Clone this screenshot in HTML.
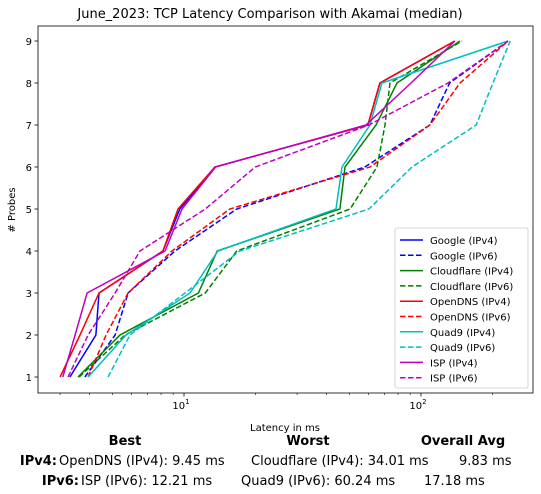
<!DOCTYPE html>
<html><head><meta charset="utf-8"><style>
body{margin:0;background:#fff;width:541px;height:494px;overflow:hidden;font-family:"DejaVu Sans","Liberation Sans",sans-serif}
svg{position:absolute;left:0;top:0;font-family:"DejaVu Sans","Liberation Sans",sans-serif}
svg text{font-family:"DejaVu Sans","Liberation Sans",sans-serif}
</style></head><body>
<svg id="c" width="541" height="494" xmlns="http://www.w3.org/2000/svg"></svg>
<script>
const probes=[1,2,3,4,5,6,7,8,9];
const seriesNames=["Google (IPv4)","Google (IPv6)","Cloudflare (IPv4)","Cloudflare (IPv6)","OpenDNS (IPv4)","OpenDNS (IPv6)","Quad9 (IPv4)","Quad9 (IPv6)","ISP (IPv4)","ISP (IPv6)"];
const googleV4=[3.3,4.25,4.38,8.15,9.6,13.5,59.7,67.1,139];
const googleV6=[3.82,5.12,5.81,9.16,16.7,58,109,132,233];
const cloudflareV4=[3.57,5.37,11.5,13.8,45.5,47.8,64.6,79.2,146];
const cloudflareV6=[3.61,5.64,12.3,16.7,50.2,65.2,70.5,74,149];
const opendnsV4=[3.0,3.64,4.38,8.15,9.43,13.5,59.7,67.1,139];
const opendnsV6=[3.94,4.69,5.81,8.9,15.6,60.9,109,146,233];
const quad9V4=[3.94,5.69,10.6,13.9,43.8,46.4,60.9,68.4,233];
const quad9V6=[4.78,5.92,10.1,17.2,60.3,91.6,171,201,238];
const ispV4=[3.08,3.47,3.9,8.32,9.81,13.6,58.6,90.7,139];
const ispV6=[3.24,3.94,5.12,6.52,12.3,20,60.3,130,233];
const colors=["#0000ff","#0000ff","#008000","#008000","#ff0000","#ff0000","#00bfbf","#00bfbf","#bf00bf","#bf00bf"];
const dashed=[false,true,false,true,false,true,false,true,false,true];
const allSeries=[googleV4,googleV6,cloudflareV4,cloudflareV6,opendnsV4,opendnsV6,quad9V4,quad9V6,ispV4,ispV6];
const xTickVals=[10,100];
const xTickLabels=["10","10"];
const yTicks=[1,2,3,4,5,6,7,8,9];

const L=38,R=533,T=26,B=393;
const X=v=>184+237*Math.log10(v/10);
const Y=p=>377-(p-1)*42;
const svg=document.getElementById('c');
const NS="http://www.w3.org/2000/svg";
function mk(tag,attrs,parent){const e=document.createElementNS(NS,tag);for(const k in attrs)e.setAttribute(k,attrs[k]);(parent||svg).appendChild(e);return e;}
function txt(s,x,y,size,anchor,weight,name){const t=mk('text',{x:x,y:y,'font-size':size,'text-anchor':anchor||'start','font-weight':weight||'normal',fill:'#000'});t.textContent=s;


return t;}

txt("June_2023: TCP Latency Comparison with Akamai (median)",270,18,13,'middle','normal','chart-title');
const g=mk('g',{});


allSeries.forEach((s,i)=>{
  const d=s.map((v,j)=>(j?'L':'M')+X(v).toFixed(1)+','+Y(probes[j]).toFixed(1)).join(' ');
  const p=mk('path',{d:d,fill:'none',stroke:colors[i],'stroke-width':1.5,'stroke-dasharray':dashed[i]?'5.5,2.5':'none'},g);
  
  
});
const fr=mk('rect',{x:L,y:T,width:R-L,height:B-T,fill:'none',stroke:'#000','stroke-width':0.8});


yTicks.forEach(v=>{mk('line',{x1:L-3.5,x2:L,y1:Y(v),y2:Y(v),stroke:'#000','stroke-width':0.8});txt(String(v),L-6,Y(v)+4,10,'end','normal','y-tick-label');});
xTickVals.forEach((v,i)=>{mk('line',{x1:X(v),x2:X(v),y1:B,y2:B+3.5,stroke:'#000','stroke-width':0.8});
 const t=txt(xTickLabels[i],X(v)-3,B+16,10,'middle','normal','x-tick-label');
 const sp=document.createElementNS(NS,'tspan');sp.setAttribute('dy','-5');sp.setAttribute('font-size','7');sp.textContent=String(i+1);t.appendChild(sp);});
for(let d=1;d<=100;d*=10){for(let m=2;m<=9;m++){const x=X(d*m);if(x>L&&x<R)mk('line',{x1:x,x2:x,y1:B,y2:B+2,stroke:'#000','stroke-width':0.6});}}
txt("Latency in ms",285,431,10,'middle','normal','x-axis-title');
const yl=txt("# Probes",15,210,10,'middle','normal','y-axis-title');yl.setAttribute('transform','rotate(-90 15 210)');
const lg=mk('g',{});


mk('rect',{x:395,y:228,width:133,height:160,rx:2,fill:'#fff',stroke:'#ccc','stroke-width':0.8},lg);
seriesNames.forEach((n,i)=>{const y=240+i*15.3;
 mk('line',{x1:400,x2:423,y1:y,y2:y,stroke:colors[i],'stroke-width':1.5,'stroke-dasharray':dashed[i]?'5.5,2.5':'none'},lg);
 const t=mk('text',{x:430,y:y+4,'font-size':10,fill:'#000'},lg);t.textContent=n;
 
 });
txt("Best",125,445,13,'middle','bold','best-header');
txt("Worst",308,445,13,'middle','bold','worst-header');
txt("Overall Avg",463,445,13,'middle','bold','avg-header');
txt("IPv4:",57,465,13,'end','bold','ipv4-label');
txt("OpenDNS (IPv4): 9.45 ms",59,465,13,'start','normal','ipv4-best');
txt("Cloudflare (IPv4): 34.01 ms",251,465,13,'start','normal','ipv4-worst');
txt("9.83 ms",459,465,13,'start','normal','ipv4-avg');
txt("IPv6:",79,485,13,'end','bold','ipv6-label');
txt("ISP (IPv6): 12.21 ms",81,485,13,'start','normal','ipv6-best');
txt("Quad9 (IPv6): 60.24 ms",241,485,13,'start','normal','ipv6-worst');
txt("17.18 ms",424,485,13,'start','normal','ipv6-avg');
</script>
</body></html>
